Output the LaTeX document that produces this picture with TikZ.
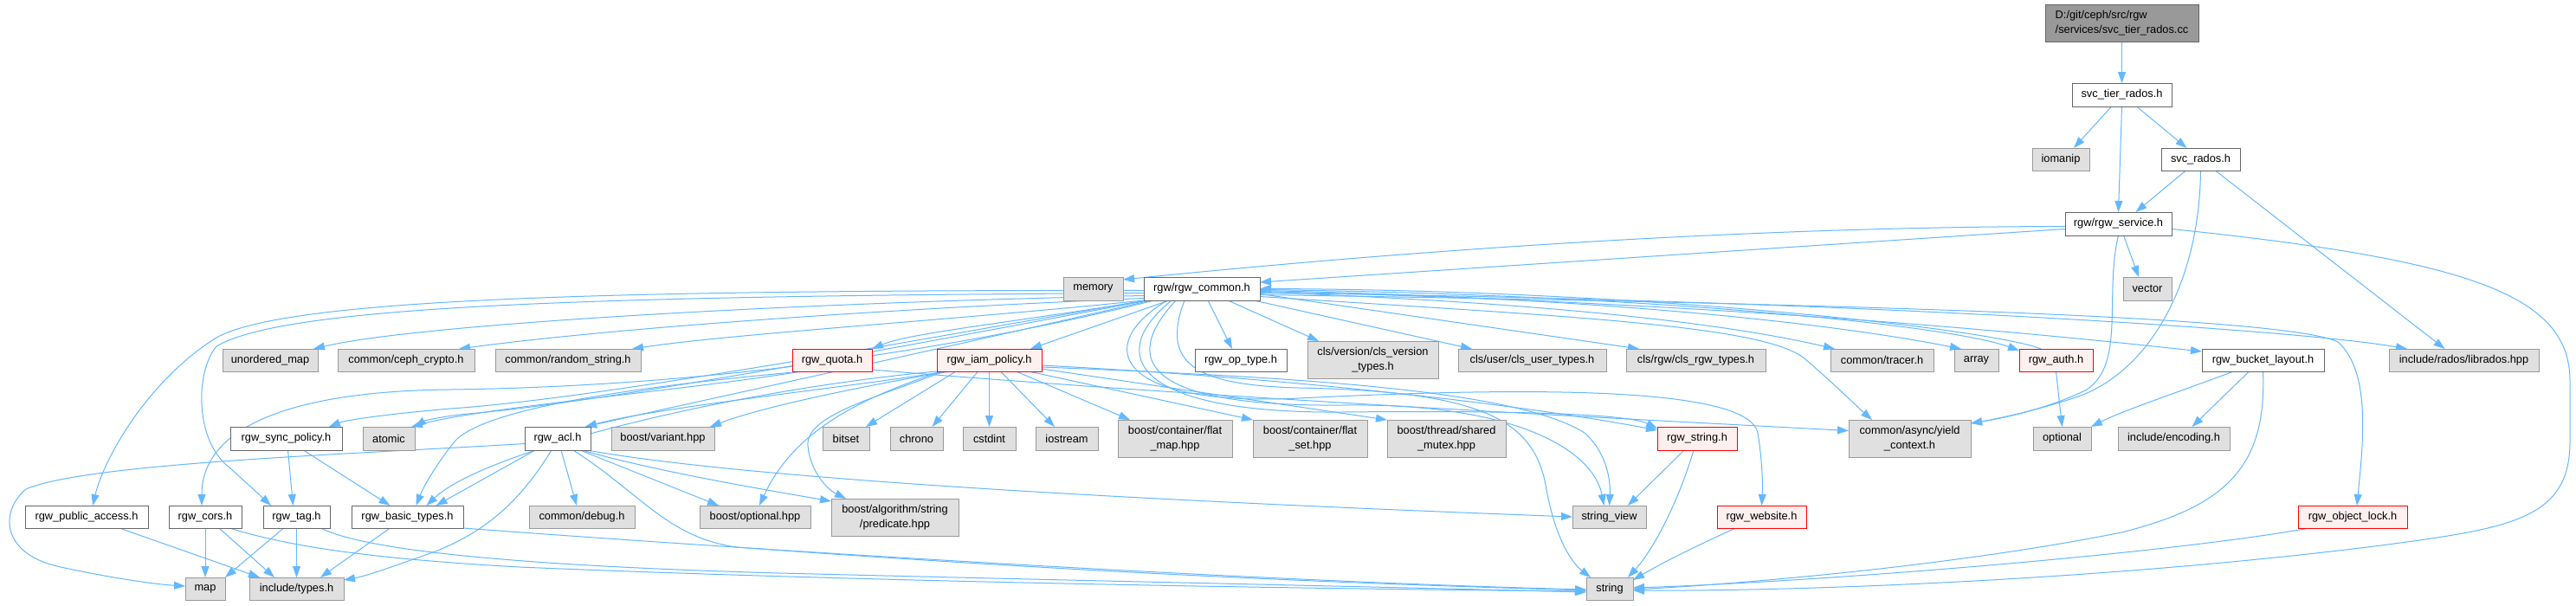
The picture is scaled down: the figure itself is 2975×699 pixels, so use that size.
\documentclass[tikz,border=0pt]{standalone}
\usepackage{fontspec}
\setmainfont{Liberation Sans}
\usetikzlibrary{arrows.meta}
\definecolor{edgeblue}{HTML}{63B8FF}
\definecolor{nodegray}{HTML}{E0E0E0}
\definecolor{bordergray}{HTML}{999999}
\definecolor{borderdark}{HTML}{666666}
\definecolor{redfill}{HTML}{FFF0F0}
\definecolor{redborder}{HTML}{FF0000}
\definecolor{rootfill}{HTML}{999999}
\pgfdeclarelayer{bg}
\pgfsetlayers{bg,main}
\newcommand{\nd}[7]{\node[#1,minimum width={#4-#3},minimum height={#6-#5}] (#2) at ({(#3+#4)/2},{(#5+#6)/2}) {#7};}
\tikzset{
 box/.style={draw, rectangle, inner sep=0pt, outer sep=0pt, line width=1pt, font=\fontsize{12.8}{16.5}\selectfont, align=center},
 gbox/.style={box, fill=nodegray, draw=bordergray},
 wbox/.style={box, fill=white, draw=borderdark},
 rbox/.style={box, fill=redfill, draw=redborder},
 rootbox/.style={box, fill=rootfill, draw=borderdark, align=left},
 lnk/.style={draw=edgeblue, line width=1pt, -{Triangle[length=13pt,width=9pt]}}
}
\begin{document}
\begin{tikzpicture}[x=1pt,y=-1pt]
\useasboundingbox (0,0) rectangle (2975,699);
% nodes
\nd{rootbox}{root}{2362}{2539}{5}{48}{D:/git/ceph/src/rgw\\/services/svc\_tier\_rados.cc}
\nd{wbox}{stier}{2393}{2508}{96}{123}{svc\_tier\_rados.h}
\nd{gbox}{iomanip}{2347}{2413}{171}{197}{iomanip}
\nd{wbox}{svcrados}{2496}{2587}{171}{197}{svc\_rados.h}
\nd{wbox}{service}{2385}{2508}{245}{272}{rgw/rgw\_service.h}
\nd{gbox}{memory}{1228}{1297}{320}{347}{memory}
\nd{wbox}{common}{1321}{1455}{320}{347}{rgw/rgw\_common.h}
\nd{gbox}{vector}{2452}{2508}{320}{347}{vector}
\nd{gbox}{umap}{257}{367}{403}{429}{unordered\_map}
\nd{gbox}{crypto}{390}{548}{403}{429}{common/ceph\_crypto.h}
\nd{gbox}{randstr}{572}{740}{403}{429}{common/random\_string.h}
\nd{rbox}{quota}{915}{1007}{403}{429}{rgw\_quota.h}
\nd{rbox}{iam}{1082}{1203}{403}{429}{rgw\_iam\_policy.h}
\nd{wbox}{optype}{1380}{1486}{403}{429}{rgw\_op\_type.h}
\nd{gbox}{clsver}{1510}{1661}{394}{437}{cls/version/cls\_version\\\_types.h}
\nd{gbox}{clsuser}{1684}{1855}{403}{429}{cls/user/cls\_user\_types.h}
\nd{gbox}{clsrgw}{1878}{2039}{403}{429}{cls/rgw/cls\_rgw\_types.h}
\nd{gbox}{tracer}{2114}{2233}{403}{429}{common/tracer.h}
\nd{gbox}{array}{2257}{2308}{403}{429}{array}
\nd{rbox}{auth}{2332}{2417}{403}{429}{rgw\_auth.h}
\nd{wbox}{bucket}{2543}{2684}{403}{429}{rgw\_bucket\_layout.h}
\nd{gbox}{librados}{2759}{2932}{403}{429}{include/rados/librados.hpp}
\nd{wbox}{syncpol}{266}{395}{493}{520}{rgw\_sync\_policy.h}
\nd{gbox}{atomic}{419}{479}{493}{520}{atomic}
\nd{wbox}{acl}{606}{682}{493}{520}{rgw\_acl.h}
\nd{gbox}{variant}{706}{825}{493}{520}{boost/variant.hpp}
\nd{gbox}{bitset}{950}{1004}{493}{520}{bitset}
\nd{gbox}{chrono}{1028}{1089}{493}{520}{chrono}
\nd{gbox}{cstdint}{1112}{1173}{493}{520}{cstdint}
\nd{gbox}{iostream}{1196}{1268}{493}{520}{iostream}
\nd{gbox}{flatmap}{1291}{1423}{485}{528}{boost/container/flat\\\_map.hpp}
\nd{gbox}{flatset}{1447}{1579}{485}{528}{boost/container/flat\\\_set.hpp}
\nd{gbox}{mutex}{1602}{1739}{485}{528}{boost/thread/shared\\\_mutex.hpp}
\nd{rbox}{rgwstring}{1914}{2006}{493}{520}{rgw\_string.h}
\nd{gbox}{yield}{2135}{2276}{485}{528}{common/async/yield\\\_context.h}
\nd{gbox}{optional}{2348}{2415}{493}{520}{optional}
\nd{gbox}{encoding}{2446}{2575}{493}{520}{include/encoding.h}
\nd{wbox}{public}{29}{171}{584}{610}{rgw\_public\_access.h}
\nd{wbox}{cors}{195}{279}{584}{610}{rgw\_cors.h}
\nd{wbox}{tag}{304}{381}{584}{610}{rgw\_tag.h}
\nd{wbox}{basic}{406}{535}{584}{610}{rgw\_basic\_types.h}
\nd{gbox}{debug}{611}{733}{584}{610}{common/debug.h}
\nd{gbox}{optionalhpp}{808}{936}{584}{610}{boost/optional.hpp}
\nd{gbox}{predicate}{960}{1107}{576}{619}{boost/algorithm/string\\/predicate.hpp}
\nd{gbox}{stringview}{1816}{1901}{584}{610}{string\_view}
\nd{rbox}{website}{1983}{2086}{584}{610}{rgw\_website.h}
\nd{rbox}{objlock}{2654}{2780}{584}{610}{rgw\_object\_lock.h}
\nd{gbox}{map}{214}{260}{667}{693}{map}
\nd{gbox}{types}{288}{397}{667}{693}{include/types.h}
\nd{gbox}{string}{1832}{1886}{667}{693}{string}
\begin{pgfonlayer}{bg}
\fill[white] (0,0) rectangle (2975,699);
% top
\draw[lnk] (root.south) -- (stier.north);
\draw[lnk] ([xshift=-12pt]stier.south) -- ([xshift=15pt]iomanip.north);
\draw[lnk] (stier.south) -- (service.north);
\draw[lnk] ([xshift=17pt]stier.south) -- ([xshift=-16pt]svcrados.north);
\draw[lnk] ([xshift=-17pt]svcrados.south) -- ([xshift=20pt]service.north);
\draw[lnk] (svcrados.south) .. controls (2540,330) and (2480,430) .. (2400,458) .. controls (2350,475) and (2300,485) .. ([yshift=-4pt]yield.north east);
\draw[lnk] ([xshift=17pt]svcrados.south) -- ([xshift=-22pt]librados.north);
% service
\draw[lnk] ([yshift=-3pt]service.west) .. controls (2000,262) and (1600,292) .. ([yshift=-3pt]memory.north east);
\draw[lnk] ([yshift=-6pt]service.west) -- ([yshift=-6pt]common.north east);
\draw[lnk] ([xshift=6pt]service.south) -- ([xshift=-10pt]vector.north);
\draw[lnk] (service.south) .. controls (2430,340) and (2455,420) .. (2410,450) .. controls (2370,470) and (2320,482) .. ([yshift=-4pt]yield.north east);
\draw[lnk] ([yshift=-6pt]service.east) .. controls (2850,300) and (2968,340) .. (2968,440) -- (2968,510) .. controls (2968,600) and (2900,610) .. (2750,630) .. controls (2450,668) and (2100,683) .. ([yshift=-2pt]string.east);
% common, leftwards
\draw[lnk] ([yshift=-2pt]common.west) .. controls (700,335) and (330,345) .. (250,390) .. controls (170,440) and (120,530) .. ([xshift=7pt]public.north);
\draw[lnk] ([yshift=-5pt]common.west) .. controls (700,342) and (330,352) .. (250,400) .. controls (225,430) and (225,510) .. (265,540) .. controls (285,558) and (300,572) .. ([xshift=9pt]tag.north west);
\draw[lnk] ([yshift=-8pt]common.west) .. controls (900,350) and (480,375) .. ([xshift=-5pt]umap.north east);
\draw[lnk] ([yshift=-11pt]common.west) .. controls (1000,358) and (700,380) .. ([xshift=-18pt]crypto.north east);
\draw[lnk] (common.south west) .. controls (1100,370) and (850,385) .. ([xshift=-10pt]randstr.north east);
\draw[lnk] ([xshift=5pt]common.south west) .. controls (1150,375) and (1050,385) .. (quota.north east);
\draw[lnk] ([xshift=2pt]common.south west) .. controls (1100,385) and (700,460) .. (520,472) .. controls (450,478) and (400,485) .. ([xshift=-15pt]syncpol.north east);
\draw[lnk] ([xshift=4pt]common.south west) .. controls (1100,390) and (700,465) .. (540,478) .. controls (510,481) and (490,486) .. (atomic.north east);
\draw[lnk] ([xshift=8pt]common.south west) .. controls (1100,400) and (800,465) .. ([xshift=-6pt]acl.north east);
\draw[lnk] ([xshift=12pt]common.south west) .. controls (1200,380) and (900,445) .. (520,450) .. controls (320,452) and (233,500) .. ([xshift=-4pt]cors.north);
% common, downwards / rightwards
\draw[lnk] ([xshift=29pt]common.south west) -- ([xshift=-13pt]iam.north east);
\draw[lnk] ([xshift=74pt]common.south west) -- ([xshift=-10pt]optype.north);
\draw[lnk] ([xshift=97pt]common.south west) -- ([xshift=13pt]clsver.north west);
\draw[lnk] ([xshift=-7pt]common.south east) -- ([xshift=16pt]clsuser.north west);
\draw[lnk] ([yshift=-6pt]common.east) -- ([xshift=15pt]clsrgw.north west);
\draw[lnk] ([yshift=-4pt]common.east) .. controls (1800,350) and (2000,375) .. ([xshift=5pt]tracer.north west);
\draw[lnk] ([yshift=-2pt]common.east) .. controls (1900,345) and (2150,380) .. ([xshift=8pt]array.north west);
\draw[lnk] ([yshift=-1pt]common.east) .. controls (1900,340) and (2250,375) .. ([yshift=-2pt]auth.north west);
\draw[lnk] ([xshift=25pt]auth.north west) .. controls (2300,380) and (1900,335) .. (common.east);
\draw[lnk] ([yshift=-3pt]common.east) .. controls (2000,350) and (2350,385) .. ([yshift=-3pt]bucket.north west);
\draw[lnk] ([yshift=-5pt]common.east) .. controls (2100,345) and (2650,380) .. ([xshift=21pt]librados.north west);
\draw[lnk] ([yshift=-7pt]common.east) .. controls (2100,350) and (2640,365) .. (2700,395) .. controls (2740,430) and (2728,520) .. ([xshift=5pt]objlock.north);
\draw[lnk] ([yshift=-9pt]common.east) .. controls (1800,365) and (2040,375) .. (2085,415) .. controls (2120,445) and (2145,470) .. ([xshift=27pt]yield.north west);
\draw[lnk] ([xshift=-40pt]common.south) .. controls (1260,400) and (1290,470) .. (1500,460) .. controls (1800,445) and (2020,450) .. (2030,500) .. controls (2035,530) and (2036,560) .. (website.north);
\draw[lnk] ([xshift=-30pt]common.south) .. controls (1290,420) and (1330,470) .. (1550,468) .. controls (1750,465) and (1840,520) .. ([xshift=-6pt]stringview.north);
\draw[lnk] ([xshift=-20pt]common.south) .. controls (1340,420) and (1380,445) .. (1500,448) .. controls (1700,452) and (1770,480) .. (1785,560) .. controls (1795,620) and (1815,650) .. ([xshift=5pt]string.north west);
\draw[lnk] ([xshift=-35pt]common.south) .. controls (1275,410) and (1310,478) .. (1550,476) .. controls (1750,474) and (1880,478) .. ([yshift=-2pt]rgwstring.north west);
\draw[lnk] (auth.south) -- (optional.north);
% quota
\draw[lnk] ([xshift=10pt]quota.south west) .. controls (800,450) and (560,470) .. ([xshift=-4pt]atomic.north east);
\draw[lnk] ([xshift=12pt]quota.south west) .. controls (750,445) and (560,470) .. (525,510) .. controls (505,535) and (490,560) .. ([xshift=10pt]basic.north);
\draw[lnk] ([yshift=2pt]quota.south east) .. controls (1400,460) and (1900,485) .. ([yshift=9pt]yield.west);
% iam
\draw[lnk] ([xshift=10pt]iam.south west) .. controls (1000,445) and (760,470) .. ([xshift=-6pt]acl.north east);
\draw[lnk] (iam.south west) .. controls (850,450) and (560,520) .. ([xshift=22pt]basic.north);
\draw[lnk] ([xshift=15pt]iam.south west) .. controls (1000,445) and (880,470) .. ([xshift=-5pt]variant.north east);
\draw[lnk] ([xshift=22pt]iam.south west) -- ([xshift=-4pt]bitset.north east);
\draw[lnk] ([xshift=-13pt]iam.south) -- ([xshift=18pt]chrono.north);
\draw[lnk] (iam.south) -- (cstdint.north);
\draw[lnk] ([xshift=13pt]iam.south) -- ([xshift=-14pt]iostream.north);
\draw[lnk] ([xshift=31pt]iam.south) -- ([xshift=14pt]flatmap.north west);
\draw[lnk] ([xshift=-15pt]iam.south east) -- (flatset.north west);
\draw[lnk] ([yshift=3pt]iam.south east) -- (mutex.north west);
\draw[lnk] ([xshift=5pt]iam.south west) .. controls (1010,455) and (920,490) .. ([xshift=5pt]optionalhpp.north);
\draw[lnk] ([xshift=8pt]iam.south west) .. controls (1010,460) and (930,480) .. (933,515) .. controls (936,545) and (955,565) .. ([xshift=17pt]predicate.north west);
\draw[lnk] ([yshift=-6pt]iam.east) .. controls (1550,440) and (1800,475) .. ([yshift=-4pt]rgwstring.north west);
\draw[lnk] ([yshift=-8pt]iam.east) .. controls (1500,436) and (1750,450) .. (1830,500) .. controls (1858,525) and (1860,560) .. (stringview.north);
% acl
\draw[lnk] ([yshift=-6pt]acl.west) .. controls (400,525) and (100,535) .. (30,565) .. controls (0,590) and (0,640) .. (70,655) .. controls (130,668) and (180,675) .. ([yshift=3pt]map.west);
\draw[lnk] ([xshift=12pt]acl.south west) -- ([xshift=33pt]basic.north);
\draw[lnk] ([xshift=-7pt]acl.south) .. controls (600,580) and (560,615) .. (500,638) .. controls (460,652) and (425,665) .. ([yshift=-3pt]types.north east);
\draw[lnk] ([xshift=4pt]acl.south) -- ([xshift=-6pt]debug.north);
\draw[lnk] ([xshift=26pt]acl.south) -- ([xshift=22pt]optionalhpp.north west);
\draw[lnk] ([xshift=-10pt]acl.south east) .. controls (760,545) and (880,565) .. ([yshift=-3pt]predicate.north west);
\draw[lnk] ([xshift=-4pt]acl.south east) .. controls (900,560) and (1500,585) .. (stringview.west);
\draw[lnk] ([xshift=18pt]acl.south) .. controls (740,570) and (770,620) .. (850,632) .. controls (1300,665) and (1600,675) .. ([yshift=-2pt]string.west);
% lower left
\draw[lnk] ([xshift=2pt]syncpol.south) -- ([xshift=-4pt]tag.north);
\draw[lnk] ([xshift=20pt]syncpol.south) -- ([xshift=-20pt]basic.north);
\draw[lnk] ([xshift=38pt]public.south) -- ([xshift=12pt]types.north west);
\draw[lnk] (cors.south) -- (map.north);
\draw[lnk] ([xshift=16pt]cors.south) -- ([xshift=29pt]types.north west);
\draw[lnk] ([xshift=28pt]cors.south) .. controls (330,630) and (420,645) .. (600,655) .. controls (1000,672) and (1500,680) .. ([yshift=-3pt]string.west);
\draw[lnk] ([xshift=-15pt]tag.south) -- (map.north east);
\draw[lnk] (tag.south) -- (types.north);
\draw[lnk] ([xshift=28pt]tag.south) .. controls (430,640) and (650,655) .. (900,662) .. controls (1300,672) and (1600,678) .. ([yshift=-4pt]string.west);
\draw[lnk] ([xshift=-20pt]basic.south) -- ([xshift=-27pt]types.north east);
\draw[lnk] (basic.south east) .. controls (800,630) and (1400,670) .. ([yshift=-1pt]string.west);
% right
\draw[lnk] ([xshift=-15pt]rgwstring.south) -- ([xshift=-21pt]stringview.north east);
\draw[lnk] ([xshift=-4pt]rgwstring.south) .. controls (1935,590) and (1905,640) .. ([xshift=-6pt]string.north east);
\draw[lnk] ([xshift=-30pt]website.south) .. controls (1960,630) and (1920,650) .. ([yshift=10pt]string.east);
\draw[lnk] ([xshift=-50pt]objlock.south) .. controls (2500,640) and (2100,672) .. ([yshift=1pt]string.east);
\draw[lnk] ([xshift=-34pt]bucket.south) .. controls (2510,455) and (2450,475) .. (optional.north east);
\draw[lnk] ([xshift=-16pt]bucket.south) -- ([xshift=21pt]encoding.north);
\draw[lnk] (bucket.south) .. controls (2618,540) and (2570,585) .. (2450,615) .. controls (2250,655) and (2000,675) .. ([yshift=-1pt]string.east);
\end{pgfonlayer}
\end{tikzpicture}
\end{document}
